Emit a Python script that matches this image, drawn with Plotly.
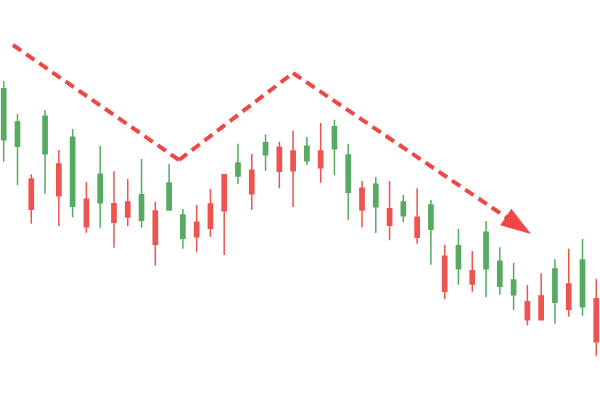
import plotly.graph_objects as go

# candle index positions
idx = list(range(44))

open_ = [65.08, 63.43, 55.25, 61.58, 59.00, 48.43, 50.18, 49.33, 49.08, 49.50,
         44.93, 47.25, 47.50, 40.43, 44.43, 49.00, 56.33, 56.00, 57.43, 61.33,
         63.18, 62.25, 59.83, 62.25, 62.83, 51.93, 52.93, 48.33, 47.83, 46.08,
         45.68, 42.68, 35.93, 32.83, 32.33, 32.83, 28.43, 26.33, 24.58, 26.00,
         24.43, 29.00, 23.33, 25.33]
high = [79.75, 71.50, 56.43, 72.50, 62.50, 67.75, 54.50, 63.50, 57.18, 55.25,
        60.25, 49.58, 59.00, 47.75, 48.75, 52.75, 56.33, 64.08, 61.50, 66.43,
        64.58, 67.33, 65.75, 69.25, 70.08, 64.08, 54.75, 55.75, 54.75, 51.25,
        52.93, 50.00, 38.83, 42.75, 37.25, 44.75, 38.18, 34.25, 28.75, 31.68,
        35.18, 37.83, 40.25, 30.25]
low = [59.58, 53.68, 44.08, 51.58, 43.43, 45.68, 41.83, 43.08, 38.08, 43.43,
       43.08, 33.58, 47.50, 37.83, 36.93, 40.83, 36.25, 54.00, 47.58, 57.25,
       52.93, 48.25, 58.83, 54.33, 56.18, 45.00, 43.18, 41.75, 39.93, 44.43,
       39.08, 33.83, 25.18, 28.83, 27.08, 25.68, 26.33, 22.50, 18.68, 20.08,
       19.08, 20.83, 21.08, 11.08]
close = [77.83, 69.50, 47.68, 70.93, 51.08, 65.68, 43.33, 56.43, 44.43, 45.75,
         51.33, 38.93, 54.25, 46.25, 40.83, 42.93, 47.33, 59.25, 51.58, 64.33,
         57.18, 57.33, 63.43, 58.08, 68.33, 61.25, 47.50, 53.93, 43.68, 49.50,
         40.68, 48.75, 27.18, 38.58, 29.00, 41.93, 34.68, 30.00, 20.08, 20.08,
         32.75, 22.68, 35.00, 14.58]

# trend line (dashed, with arrow at the end)
trend_x = [0.67, 12.72, 20.99, 38.26]
trend_y = [88.75, 60.00, 81.75, 41.50]

GREEN = "#57AA62"
RED = "#EF5350"
LINE_RED = "#EF4646"

fig = go.Figure()
fig.add_trace(go.Candlestick(
    x=idx, open=open_, high=high, low=low, close=close,
    increasing=dict(line=dict(color=GREEN, width=1.5), fillcolor=GREEN),
    decreasing=dict(line=dict(color=RED, width=1.5), fillcolor=RED),
    whiskerwidth=0,
    showlegend=False,
))
fig.add_trace(go.Scatter(
    x=trend_x, y=trend_y, mode="lines+markers",
    line=dict(color=LINE_RED, width=4, dash="10px,6px"),
    marker=dict(symbol="arrow", size=[0, 0, 0, 32], color=LINE_RED, opacity=1,
                angleref="previous", line=dict(width=0, color=LINE_RED)),
    showlegend=False, hoverinfo="skip",
))

fig.update_layout(
    width=600, height=400,
    margin=dict(l=0, r=0, t=0, b=0),
    paper_bgcolor="white", plot_bgcolor="white",
    boxgap=0.565,
    showlegend=False,
    xaxis=dict(range=[-0.27, 43.27], visible=False, rangeslider=dict(visible=False),
               showgrid=False, zeroline=False),
    yaxis=dict(range=[0, 100], visible=False, showgrid=False, zeroline=False),
)

fig.write_html(
    "out.html",
    config={"displayModeBar": False},
    post_script="document.body.style.margin='0';document.body.style.padding='0';",
)
